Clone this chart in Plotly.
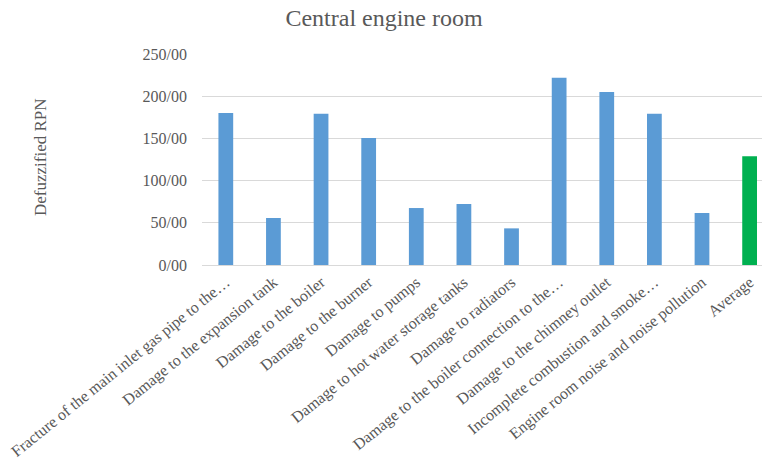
import plotly.graph_objects as go

categories = [
    "Fracture of the main inlet gas pipe to the…",
    "Damage to the expansion tank",
    "Damage to the boiler",
    "Damage to the burner",
    "Damage to pumps",
    "Damage to hot water storage tanks",
    "Damage to radiators",
    "Damage to the boiler connection to the…",
    "Damage to the chimney outlet",
    "Incomplete combustion and smoke…",
    "Engine room noise and noise pollution",
    "Average",
]
values = [180.0, 55.7, 179.3, 150.5, 67.5, 72.3, 43.4, 221.9, 205.0, 179.3, 61.6, 128.8]
bar_colors = ["#5B9BD5"] * 11 + ["#00B050"]
tick_vals = [0, 50, 100, 150, 200, 250]
tick_text = ["0/00", "50/00", "100/00", "150/00", "200/00", "250/00"]

serif = "Liberation Serif, Times New Roman, serif"
gray = "#595959"

W, H = 762, 460
ML, MR, MT, MB = 202, 0, 54, 195
plot_w = W - ML - MR
plot_h = H - MT - MB

fig = go.Figure(go.Bar(
    x=categories, y=values, marker=dict(color=bar_colors, line=dict(width=0)),
))
fig.update_layout(
    width=W, height=H,
    margin=dict(l=ML, r=MR, t=MT, b=MB),
    paper_bgcolor="white", plot_bgcolor="white",
    bargap=0.69,
    showlegend=False,
    font=dict(family=serif, color=gray, size=15),
    title=dict(text="Central engine room", x=0.504, xanchor="center", y=0.962, yanchor="middle",
               font=dict(family=serif, size=24, color=gray)),
    xaxis=dict(range=[-0.5, 11.26], tickangle=-39, showgrid=False, showline=False,
               automargin=False, ticks="", ticklabelstandoff=4,
               tickfont=dict(family=serif, size=16, color=gray)),
    yaxis=dict(range=[0, 250], tickvals=tick_vals, ticktext=tick_text, showgrid=True,
               automargin=False,
               gridcolor="#D9D9D9", gridwidth=1, zeroline=True, zerolinecolor="#D9D9D9",
               zerolinewidth=1, ticks="", ticklen=0, ticklabelstandoff=14,
               tickfont=dict(family=serif, size=16, color=gray)),
    annotations=[dict(text="Defuzzified RPN", x=(40 - ML) / plot_w, y=(H - MB - 157) / plot_h,
                      xref="paper", yref="paper", xanchor="center", yanchor="middle",
                      showarrow=False, textangle=-90,
                      font=dict(family=serif, size=17, color=gray))],
)
fig.write_html("out.html")
